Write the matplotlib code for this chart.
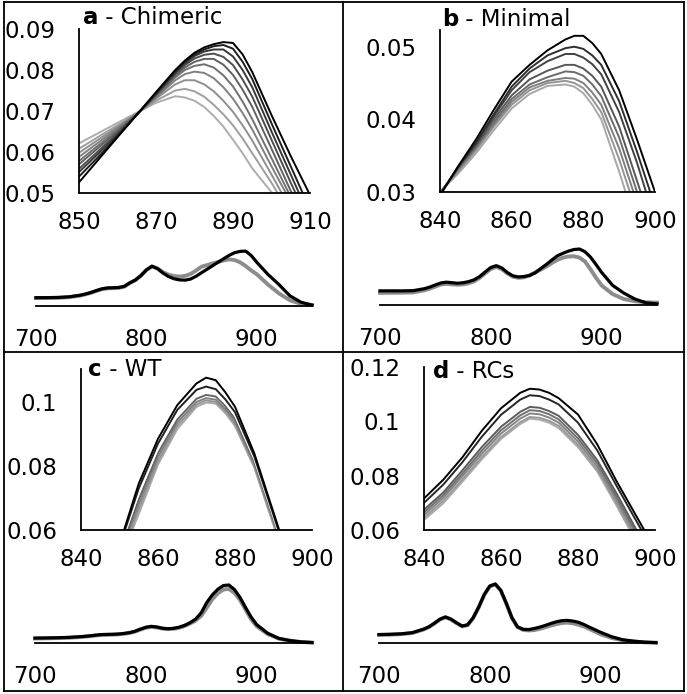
import matplotlib
matplotlib.use("Agg")
import matplotlib.pyplot as plt
from matplotlib.lines import Line2D

plt.rcParams['font.family'] = ['DejaVu Sans']

# ------------------------------------------
# Data
# ------------------------------------------
# full spectra (lower plots), one dark and one light trace per panel
full_wl = [700, 710, 720, 730, 740, 745, 750, 755, 760, 765, 770, 775, 780, 785,
           790, 795, 800, 805, 810, 815, 820, 825, 830, 835, 840, 845, 850, 855,
           860, 865, 870, 875, 880, 885, 890, 895, 900, 910, 920, 930, 940, 950]

full_a_dark = [.0131, .0132, .0135, .0145, .0170, .0190, .0215, .0245, .0272, .0285, .0288, .0292, .0310, .0366,
               .0410, .0480, .0570, .0628, .0590, .0520, .0465, .0430, .0412, .0408, .0425, .0470, .0526, .0581,
               .0636, .0691, .0746, .0800, .0842, .0862, .0866, .0795, .0690, .0500, .0340, .0160, .0060, .0015]
full_a_light = [.0125, .0126, .0129, .0139, .0164, .0184, .0209, .0239, .0266, .0279, .0282, .0287, .0305, .0362,
                .0407, .0478, .0568, .0624, .0594, .0535, .0495, .0472, .0465, .0475, .0505, .0560, .0621, .0646,
                .0671, .0696, .0720, .0736, .0725, .0688, .0630, .0560, .0502, .0340, .0200, .0090, .0035, .0015]

full_b_dark = [.0130, .0130, .0130, .0132, .0150, .0165, .0185, .0203, .0210, .0205, .0200, .0205, .0215, .0232,
               .0262, .0305, .0345, .0362, .0340, .0298, .0268, .0258, .0262, .0272, .0295, .0335, .0372, .0413,
               .0452, .0475, .0495, .0510, .0515, .0490, .0440, .0372, .0300, .0180, .0110, .0055, .0020, .0010]
full_b_light = [.0112, .0112, .0113, .0116, .0135, .0150, .0170, .0188, .0195, .0190, .0186, .0190, .0200, .0218,
                .0250, .0292, .0332, .0350, .0330, .0290, .0260, .0250, .0254, .0272, .0300, .0325, .0353, .0385,
                .0415, .0435, .0446, .0448, .0436, .0400, .0328, .0250, .0180, .0100, .0055, .0035, .0025, .0022]

full_c_dark = [.0090, .0093, .0097, .0103, .0115, .0123, .0133, .0145, .0155, .0158, .0160, .0165, .0175, .0190,
               .0215, .0255, .0290, .0307, .0295, .0272, .0263, .0270, .0290, .0325, .0375, .0440, .0555, .0745,
               .0885, .0990, .1058, .1068, .0985, .0840, .0655, .0480, .0340, .0180, .0085, .0045, .0020, .0008]
full_c_light = [.0083, .0086, .0090, .0096, .0108, .0116, .0126, .0138, .0148, .0151, .0153, .0158, .0168, .0182,
                .0206, .0245, .0280, .0297, .0285, .0264, .0255, .0261, .0280, .0312, .0358, .0415, .0500, .0650,
                .0805, .0915, .0985, .0995, .0925, .0795, .0615, .0440, .0310, .0165, .0080, .0042, .0020, .0008]

full_d_dark = [.0418, .0430, .0455, .0510, .0680, .0800, .0980, .1180, .1290, .1180, .1000, .0840, .0900, .1250,
               .1780, .2400, .2820, .2920, .2600, .1950, .1250, .0800, .0680, .0665, .0716, .0785, .0868, .0965,
               .1048, .1105, .1118, .1085, .1025, .0915, .0780, .0655, .0530, .0310, .0160, .0090, .0040, .0017]
full_d_light = [.0400, .0412, .0437, .0492, .0662, .0782, .0962, .1162, .1272, .1162, .0982, .0822, .0882, .1232,
                .1762, .2382, .2802, .2902, .2582, .1932, .1232, .0782, .0650, .0620, .0637, .0698, .0778, .0860,
                .0935, .0990, .1008, .0975, .0905, .0815, .0690, .0560, .0430, .0250, .0130, .0075, .0035, .0015]

# zoomed spectra (upper plots), lightest trace first
zoom_a_wl = [850, 855, 860, 865, 870, 875, 877.5, 880, 882.5, 885, 887.5, 890, 892.5, 895, 900, 905, 910]
zoom_a = [
    [.0621, .0646, .0671, .0696, .0720, .0736, .0733, .0725, .0710, .0688, .0662, .0630, .0597, .0560, .0502, .0420, .0340],
    [.0608, .0637, .0665, .0694, .0725, .0750, .0754, .0748, .0735, .0715, .0692, .0665, .0633, .0597, .0525, .0445, .0365],
    [.0598, .0630, .0661, .0693, .0730, .0765, .0775, .0775, .0765, .0748, .0725, .0698, .0665, .0628, .0545, .0460, .0380],
    [.0588, .0623, .0658, .0693, .0733, .0775, .0790, .0796, .0793, .0780, .0758, .0730, .0695, .0655, .0565, .0478, .0395],
    [.0578, .0616, .0654, .0692, .0736, .0782, .0800, .0810, .0814, .0806, .0787, .0760, .0723, .0680, .0585, .0490, .0405],
    [.0570, .0610, .0650, .0692, .0738, .0787, .0806, .0820, .0827, .0827, .0813, .0788, .0752, .0710, .0608, .0505, .0415],
    [.0559, .0602, .0646, .0691, .0740, .0791, .0812, .0828, .0837, .0840, .0832, .0812, .0777, .0735, .0630, .0525, .0425],
    [.0551, .0596, .0642, .0691, .0742, .0794, .0816, .0834, .0845, .0850, .0850, .0833, .0800, .0758, .0650, .0545, .0440],
    [.0540, .0588, .0638, .0690, .0744, .0797, .0820, .0838, .0850, .0858, .0861, .0852, .0820, .0778, .0670, .0565, .0460],
    [.0526, .0581, .0636, .0691, .0746, .0800, .0823, .0842, .0855, .0863, .0868, .0866, .0838, .0795, .0690, .0590, .0495],
]
zoom_a_grey = [0.68, 0.62, 0.56, 0.50, 0.44, 0.38, 0.30, 0.22, 0.12, 0.0]

zoom_b_wl = [840, 845, 850, 855, 860, 865, 870, 875, 877.5, 880, 882.5, 885, 890, 895, 900]
zoom_b = [
    [.0300, .0325, .0353, .0385, .0415, .0435, .0446, .0448, .0445, .0436, .0420, .0400, .0328, .0250, .0180],
    [.0300, .0328, .0357, .0390, .0420, .0440, .0450, .0453, .0450, .0443, .0428, .0410, .0345, .0270, .0200],
    [.0299, .0330, .0360, .0393, .0424, .0444, .0453, .0457, .0456, .0450, .0437, .0420, .0360, .0285, .0210],
    [.0298, .0332, .0362, .0396, .0428, .0448, .0458, .0466, .0465, .0460, .0448, .0432, .0375, .0300, .0225],
    [.0298, .0333, .0364, .0400, .0433, .0455, .0467, .0475, .0475, .0470, .0460, .0445, .0390, .0315, .0240],
    [.0297, .0334, .0366, .0404, .0440, .0465, .0480, .0490, .0490, .0485, .0476, .0462, .0410, .0340, .0260],
    [.0296, .0334, .0368, .0407, .0445, .0470, .0488, .0498, .0500, .0497, .0488, .0475, .0425, .0355, .0280],
    [.0295, .0335, .0372, .0413, .0452, .0475, .0495, .0510, .0515, .0515, .0505, .0490, .0440, .0372, .0300],
]
zoom_b_grey = [0.66, 0.58, 0.50, 0.42, 0.34, 0.26, 0.18, 0.0]

zoom_c_wl = [845, 850, 855, 860, 865, 870, 872.5, 875, 877.5, 880, 885, 890, 895, 900]
zoom_c = [
    [.0360, .0500, .0650, .0805, .0915, .0985, .0998, .0995, .0965, .0925, .0795, .0615, .0430, .0260],
    [.0370, .0510, .0665, .0815, .0925, .0992, .1005, .1000, .0972, .0932, .0802, .0622, .0435, .0265],
    [.0380, .0520, .0680, .0828, .0935, .1000, .1012, .1007, .0978, .0940, .0808, .0628, .0440, .0270],
    [.0380, .0530, .0695, .0840, .0945, .1010, .1022, .1017, .0987, .0948, .0815, .0634, .0445, .0275],
    [.0390, .0540, .0715, .0855, .0962, .1025, .1036, .1028, .0997, .0958, .0822, .0640, .0452, .0280],
    [.0395, .0548, .0730, .0870, .0975, .1038, .1048, .1040, .1008, .0968, .0830, .0647, .0460, .0290],
    [.0400, .0555, .0745, .0885, .0990, .1058, .1076, .1068, .1030, .0985, .0840, .0655, .0470, .0300],
]
zoom_c_grey = [0.66, 0.58, 0.50, 0.40, 1.0, 0.12, 0.0]

zoom_d_wl = [840, 845, 850, 855, 860, 865, 867.5, 870, 872.5, 875, 880, 885, 890, 895, 900]
zoom_d = [
    [.0637, .0698, .0778, .0860, .0935, .0990, .1010, .1006, .0995, .0975, .0905, .0815, .0690, .0560, .0430],
    [.0645, .0707, .0786, .0868, .0942, .0997, .1016, .1013, .1002, .0983, .0913, .0822, .0698, .0568, .0440],
    [.0655, .0718, .0798, .0880, .0955, .1010, .1029, .1026, .1014, .0995, .0925, .0833, .0710, .0580, .0452],
    [.0665, .0728, .0808, .0892, .0967, .1022, .1041, .1038, .1026, .1007, .0937, .0845, .0722, .0592, .0465],
    [.0675, .0738, .0820, .0905, .0980, .1035, .1053, .1050, .1038, .1020, .0950, .0857, .0735, .0605, .0478],
    [.0695, .0760, .0843, .0935, .1015, .1070, .1088, .1085, .1072, .1052, .0985, .0885, .0757, .0630, .0505],
    [.0700, .0767, .0850, .0943, .1024, .1080, .1096, .1093, .1080, .1062, .0995, .0893, .0763, .0637, .0512],
    [.0716, .0785, .0868, .0965, .1048, .1105, .1120, .1117, .1105, .1085, .1025, .0915, .0780, .0655, .0530],
]
zoom_d_grey = [0.68, 0.60, 0.52, 0.44, 0.36, 1.0, 0.15, 0.0]

panel_letters = ["a", "b", "c", "d"]
panel_names = [" - Chimeric", " - Minimal", " - WT", " - RCs"]

zoom_xticks = [[850, 870, 890, 910], [840, 860, 880, 900], [840, 860, 880, 900], [840, 860, 880, 900]]
zoom_yticks = [[0.05, 0.06, 0.07, 0.08, 0.09], [0.03, 0.04, 0.05], [0.06, 0.08, 0.1], [0.06, 0.08, 0.1, 0.12]]
zoom_ylabels = [["0.05", "0.06", "0.07", "0.08", "0.09"], ["0.03", "0.04", "0.05"],
                ["0.06", "0.08", "0.1"], ["0.06", "0.08", "0.1", "0.12"]]
full_xticks = [700, 800, 900]

# ------------------------------------------
# Layout (pixel boxes: left, right, top, bottom)
# ------------------------------------------
W, H = 687, 694

def box(l, r, t, b):
    return [l / W, 1 - b / H, (r - l) / W, (b - t) / H]

zoom_boxes = [(79, 310, 29, 193), (440, 655, 30, 192), (81, 312, 369, 530), (424, 655, 367, 530)]
zoom_xlim = [(850, 910), (840, 900), (840, 900), (840, 900)]
zoom_ylim = [(0.05, 0.09), (0.03, 0.0523), (0.06, 0.1103), (0.06, 0.12)]
full_boxes = [(36, 312, 251, 306), (380, 657, 249, 305), (35, 312, 585, 643), (379, 656, 584, 643)]
full_ytop = [0.0868, 0.0515, 0.1068, 0.2920]
title_pos = [(83, 18), (442, 20), (88, 370), (433, 372)]

zoom_data = [(zoom_a_wl, zoom_a, zoom_a_grey), (zoom_b_wl, zoom_b, zoom_b_grey),
             (zoom_c_wl, zoom_c, zoom_c_grey), (zoom_d_wl, zoom_d, zoom_d_grey)]
full_data = [(full_a_light, full_a_dark), (full_b_light, full_b_dark),
             (full_c_light, full_c_dark), (full_d_light, full_d_dark)]

FS = 16.5

fig = plt.figure(figsize=(W / 100, H / 100), dpi=100)

for i in range(4):
    # zoomed plot
    ax = fig.add_axes(box(*zoom_boxes[i]))
    wl, curves, greys = zoom_data[i]
    for vals, g in zip(curves, greys):
        ax.plot(wl, vals, color=(g, g, g), lw=1.4)
    ax.set_xlim(*zoom_xlim[i])
    ax.set_ylim(*zoom_ylim[i])
    ax.set_xticks(zoom_xticks[i])
    ax.set_yticks(zoom_yticks[i])
    ax.set_yticklabels(zoom_ylabels[i])
    for s in ["top", "right"]:
        ax.spines[s].set_visible(False)
    for s in ["left", "bottom"]:
        ax.spines[s].set_linewidth(1.3)
    ax.tick_params(axis="x", length=0, labelsize=FS, pad=13)
    ax.tick_params(axis="y", length=0, labelsize=FS, pad=17)
    ax.patch.set_alpha(0)

    # full spectrum
    fx = fig.add_axes(box(*full_boxes[i]))
    light, dark = full_data[i]
    fx.plot(full_wl, light, color="0.55", lw=2.8, clip_on=False)
    fx.plot(full_wl, dark, color="black", lw=2.3, clip_on=False)
    fx.set_xlim(700, 950)
    fx.set_ylim(0, full_ytop[i])
    fx.set_xticks(full_xticks)
    fx.set_yticks([])
    for s in ["top", "right", "left"]:
        fx.spines[s].set_visible(False)
    fx.spines["bottom"].set_linewidth(1.3)
    fx.tick_params(axis="x", length=0, labelsize=FS, pad=16)
    fx.patch.set_alpha(0)

# panel titles: bold letter followed by the name
fig.canvas.draw()
renderer = fig.canvas.get_renderer()
for i in range(4):
    x, y = title_pos[i]
    t1 = fig.text(x / W, 1 - y / H, panel_letters[i], fontsize=FS, fontweight="bold",
                  ha="left", va="center")
    bb = t1.get_window_extent(renderer)
    fig.text(bb.x1 / W, 1 - y / H, panel_names[i], fontsize=FS, ha="left", va="center")

# frame and dividers
lines = [
    ([3.5, 683.5], [1.5, 1.5]), ([3.5, 683.5], [690.5, 690.5]),
    ([3.5, 3.5], [1.5, 690.5]), ([683.5, 683.5], [1.5, 690.5]),
    ([342.5, 342.5], [1.5, 690.5]), ([3.5, 683.5], [352, 352]),
]
for xs, ys in lines:
    fig.add_artist(Line2D([v / W for v in xs], [1 - v / H for v in ys], color="black", lw=1.3))

fig.savefig("out.png", dpi=100)
